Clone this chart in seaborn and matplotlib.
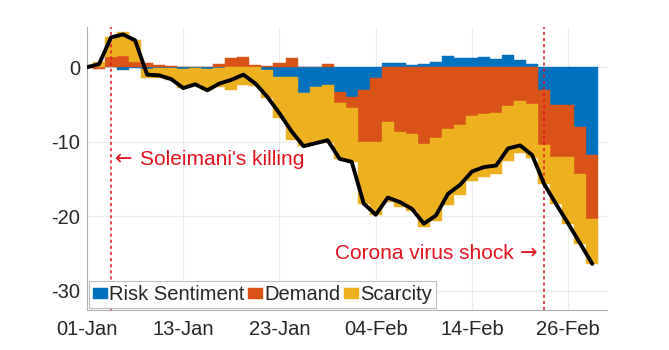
import numpy as np
import matplotlib
matplotlib.use('Agg')
import matplotlib.pyplot as plt
import seaborn as sns

# ---- data ----
tick_days = [0, 8, 16, 24, 32, 40]
tick_labels = ['01-Jan', '13-Jan', '23-Jan', '04-Feb', '14-Feb', '26-Feb']
series_names = ['Risk Sentiment', 'Demand', 'Scarcity']

risk = [0.0, 0.0, 0.0, -0.35, -0.1, -0.3, -0.1, -0.1, -0.2, -0.1,
        -0.3, -0.1, 0.0, 0.0, 0.0, -0.4, -1.3, -1.3, -3.5, -2.7,
        -2.4, -3.3, -4.0, -3.1, -1.5, 0.6, 0.6, 0.3, 0.45, 0.7,
        1.5, 1.3, 1.25, 1.4, 1.15, 1.7, 1.0, 0.4, -3.1, -5.1,
        -5.1, -8.0, -11.8]
demand = [-0.1, -0.3, 1.4, 1.5, 0.7, 0.5, 0.3, 0.1, 0.0, 0.0,
          0.0, 0.4, 1.3, 1.4, 0.3, 0.1, 0.6, 1.2, 0.0, 0.0,
          0.4, -1.5, -1.5, -7.0, -8.6, -7.35, -8.65, -9.0, -10.3, -9.45,
          -8.35, -7.8, -6.55, -6.3, -6.15, -5.2, -4.6, -4.9, -7.4, -6.9,
          -6.9, -6.3, -8.6]
scarcity = [0.1, 0.7, 2.6, 3.25, 3.0, -1.2, -1.3, -1.6, -2.6, -2.2,
            -2.8, -2.5, -3.0, -2.4, -2.5, -3.7, -5.5, -8.5, -7.1, -7.5,
            -7.8, -7.5, -7.2, -8.2, -9.7, -10.75, -10.05, -10.3, -11.15, -11.15,
            -10.15, -9.3, -8.7, -8.5, -8.2, -7.4, -6.9, -7.3, -5.2, -6.4,
            -9.0, -9.4, -6.0]

event_days = [2, 38]
event_labels = ["Soleimani's killing", "Corona virus shock"]
event_arrows = ["\u2190", "\u2192"]
y_ticks = [0, -10, -20, -30]

# ---- style ----
sns.set_theme(style='white')
plt.rcParams['font.family'] = ['Liberation Sans', 'DejaVu Sans']

colors = ['#0072BD', '#D95319', '#EDB120']
red = '#E3141F'
fs = 14.5
fs_note = 15.0

fig = plt.figure(figsize=(6.69, 3.5), dpi=100)
ax = fig.add_axes([0.130, 0.114, 0.777, 0.809])
ax.set_axisbelow(True)

days = np.arange(len(risk))
pos_base = np.zeros(len(days))
neg_base = np.zeros(len(days))
for vals, color, name in zip([risk, demand, scarcity], colors, series_names):
    v = np.asarray(vals, dtype=float)
    bottom = np.where(v >= 0, pos_base, neg_base)
    ax.bar(days, v, width=1.0, bottom=bottom, color=color, edgecolor=color,
           linewidth=0.3, label=name, zorder=2)
    pos_base += np.where(v >= 0, v, 0)
    neg_base += np.where(v < 0, v, 0)

total = np.asarray(risk) + np.asarray(demand) + np.asarray(scarcity)
sns.lineplot(x=days, y=total, color='black', linewidth=2.8, ax=ax,
             legend=False, zorder=4)

for d in event_days:
    ax.axvline(d, color=red, linestyle=(0, (2, 2)), linewidth=1.1, zorder=3)

# Soleimani annotation (arrow pointing left to the event line)
ax.text(2.3, -12.35, event_arrows[0], ha='left', va='center', color=red,
        fontsize=fs_note, family='DejaVu Sans')
ax.text(4.4, -12.35, event_labels[0], ha='left', va='center', color=red,
        fontsize=fs_note)
# Corona annotation (arrow pointing right to the event line)
ax.text(35.5, -25.0, event_labels[1], ha='right', va='center', color=red,
        fontsize=fs_note)
ax.text(37.45, -25.0, event_arrows[1], ha='right', va='center', color=red,
        fontsize=fs_note, family='DejaVu Sans')

ax.set_xlim(0, 43.2)
ax.set_ylim(-32.6, 5.4)
ax.set_xticks(tick_days)
ax.set_xticklabels(tick_labels)
ax.set_yticks(y_ticks)
ax.set_yticklabels([str(t) for t in y_ticks])

ax.grid(True, color='#EBEBEB', linewidth=0.8)
for s in ['top', 'right']:
    ax.spines[s].set_visible(False)
for s in ['left', 'bottom']:
    ax.spines[s].set_color('#B0B0B0')
    ax.spines[s].set_linewidth(0.8)
ax.tick_params(axis='both', direction='in', length=3, color='#B0B0B0',
               labelsize=fs, labelcolor='#262626')
ax.tick_params(axis='x', pad=7)
ax.tick_params(axis='y', pad=5)

leg = ax.legend(loc='lower left', bbox_to_anchor=(0.003, 0.006), ncol=3,
                fontsize=fs, handlelength=0.75, handleheight=0.45,
                handletextpad=0.08, columnspacing=0.15, borderpad=0.2,
                borderaxespad=0.0, frameon=True, fancybox=False)
leg.get_frame().set_edgecolor('#BDBDBD')
leg.get_frame().set_linewidth(0.8)
leg.get_frame().set_facecolor('white')
leg.get_frame().set_alpha(1)

fig.savefig('out.png', dpi=100)
